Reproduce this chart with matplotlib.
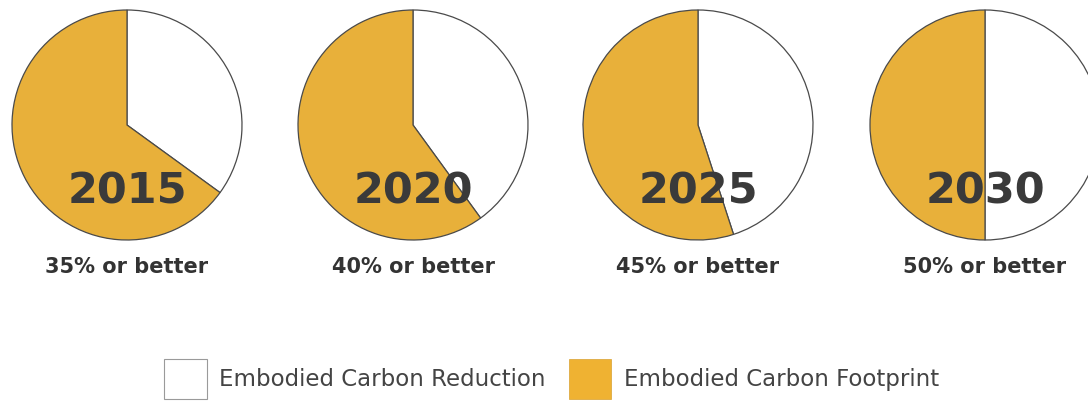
import matplotlib.pyplot as plt
from matplotlib.patches import Patch

# data
years = ['2015', '2020', '2025', '2030']
reduction = [35, 40, 45, 50]          # embodied carbon reduction (%)
footprint = [65, 60, 55, 50]          # remaining embodied carbon footprint (%)
legend_labels = ['Embodied Carbon Reduction', 'Embodied Carbon Footprint']

orange = '#e8b03a'
edge = '#4a4a4a'
dark = '#3a3a3a'

W, H = 1088, 401
fig = plt.figure(figsize=(W / 100, H / 100), dpi=100)
ax = fig.add_axes([0, 0, 1, 1])

centers_x = [127, 413, 698, 985]
cy = 125
r = 115

for i in range(len(years)):
    ax.pie([reduction[i], footprint[i]], colors=['white', orange],
           startangle=90, counterclock=False,
           center=(centers_x[i], H - cy), radius=r,
           wedgeprops=dict(edgecolor=edge, linewidth=0.9))
    ax.text(centers_x[i], H - cy - 66, years[i], ha='center', va='center',
            fontsize=31, fontweight='bold', color=dark, zorder=5)
    ax.text(centers_x[i], H - 267, f'{reduction[i]}% or better',
            ha='center', va='center', fontsize=15, fontweight='bold',
            color='#333333')

ax.set_xlim(0, W)
ax.set_ylim(0, H)
ax.set_aspect('equal')
ax.axis('off')

handles = [Patch(facecolor='white', edgecolor='#9a9a9a', linewidth=0.8),
           Patch(facecolor='#efb232', edgecolor='#d9a030', linewidth=0.5)]
fig.legend(handles, legend_labels, loc='center', bbox_to_anchor=(0.507, 1 - 379 / H),
           ncol=2, frameon=False, fontsize=16.5, handlelength=1.85, handleheight=2.3,
           handletextpad=0.55, columnspacing=1.0, labelcolor='#444444',
           borderaxespad=0, borderpad=0)

fig.savefig('out.png', dpi=100)
